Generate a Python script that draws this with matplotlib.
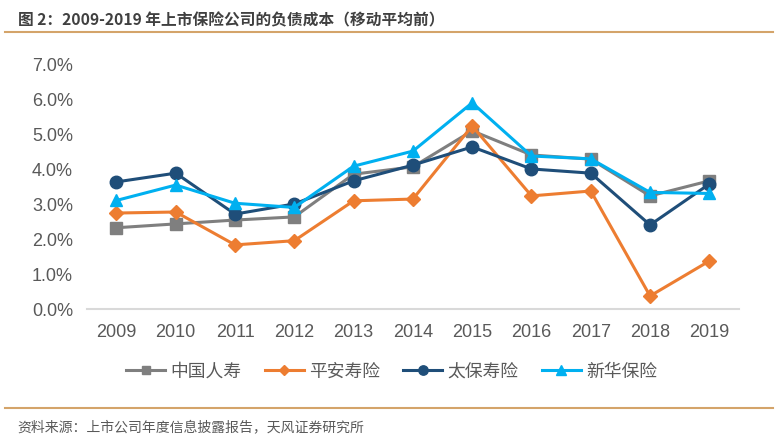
import matplotlib
matplotlib.use("Agg")
import matplotlib.pyplot as plt
from matplotlib.lines import Line2D
from matplotlib.ticker import PercentFormatter

plt.rcParams['font.family'] = ['Liberation Sans', 'Noto Sans CJK SC', 'DejaVu Sans']

# data
years = ['2009', '2010', '2011', '2012', '2013', '2014', '2015', '2016', '2017', '2018', '2019']
china_life = [2.32, 2.43, 2.54, 2.63, 3.85, 4.06, 5.09, 4.40, 4.28, 3.23, 3.66]
pingan = [2.74, 2.77, 1.83, 1.95, 3.09, 3.14, 5.23, 3.23, 3.37, 0.37, 1.37]
cpic = [3.63, 3.88, 2.71, 3.00, 3.66, 4.11, 4.63, 4.00, 3.88, 2.40, 3.57]
nci = [3.10, 3.54, 3.02, 2.90, 4.08, 4.51, 5.89, 4.37, 4.29, 3.33, 3.30]
names = ['中国人寿', '平安寿险', '太保寿险', '新华保险']

series = [china_life, pingan, cpic, nci]
colors = ['#7F7F7F', '#ED7D31', '#1F4E79', '#00B0F0']
markers = ['s', 'D', 'o', '^']
msizes = [8, 7, 9, 9]

fig = plt.figure(figsize=(7.82, 4.39), dpi=100)
ax = fig.add_axes([0.111, 0.294, 0.834, 0.558])

x = range(len(years))
for vals, c, m, ms, nm in zip(series, colors, markers, msizes, names):
    ax.plot(x, [v / 100 for v in vals], color=c, marker=m, markersize=ms,
            linewidth=2.2, label=nm)

ax.set_xlim(-0.5, len(years) - 0.5)
ax.set_ylim(0, 0.07)
ax.set_yticks([i / 100 for i in range(8)])
ax.yaxis.set_major_formatter(PercentFormatter(1.0, decimals=1))
ax.set_xticks(list(x))
ax.set_xticklabels(years)
ax.tick_params(axis='both', length=0, labelsize=13, labelcolor='#595959', pad=10)
for s in ['top', 'right', 'left']:
    ax.spines[s].set_visible(False)
ax.spines['bottom'].set_color('#D9D9D9')
ax.spines['bottom'].set_linewidth(1.5)

handles, labels = ax.get_legend_handles_labels()
fig.legend(handles, labels, loc='center', bbox_to_anchor=(0.501, 0.153), ncol=4,
           frameon=False, handlelength=2.2, columnspacing=1.3,
           handletextpad=0.3, markerscale=0.75, labelcolor='#595959',
           prop={'family': ['Noto Sans CJK SC'], 'size': 12.8})

# title, rules and source line
fig.text(0.023, 0.954, '图 2：2009-2019 年上市保险公司的负债成本（移动平均前）',
         fontsize=11.3, fontweight='bold', color='#404040', va='center',
         family=['Noto Sans CJK SC', 'DejaVu Sans'])
fig.add_artist(Line2D([0.007, 0.988], [0.925, 0.925], color='#D4A46A', linewidth=1.5))
fig.add_artist(Line2D([0.007, 0.988], [0.068, 0.068], color='#D4A46A', linewidth=1.5))
fig.text(0.022, 0.027, '资料来源：上市公司年度信息披露报告，天风证券研究所',
         fontsize=10, color='#595959', va='center',
         family=['Noto Sans CJK SC', 'DejaVu Sans'])

fig.savefig('out.png', dpi=100)
